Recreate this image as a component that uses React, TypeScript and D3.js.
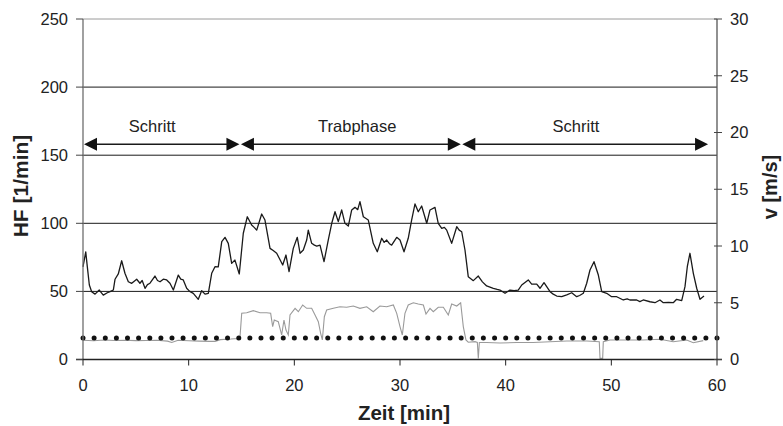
import React from "react";
import * as d3 from "d3";

const W = 783;
const H = 426;

const hfTicks = [0, 50, 100, 150, 200, 250];
const vTicks = [0, 5, 10, 15, 20, 25, 30];
const timeTicks = [0, 10, 20, 30, 40, 50, 60];

// Heart rate [1/min] over time [min]
const hfTime = [0.0, 0.26, 0.41, 0.6, 0.82, 1.14, 1.54, 1.92, 2.3, 2.56, 2.87, 3.03, 3.34, 3.66, 3.97, 4.29, 4.61, 4.85, 5.08, 5.39, 5.6, 5.87, 6.1, 6.34, 6.81, 7.05, 7.29, 7.6, 7.92, 8.23, 8.55, 9.02, 9.25, 9.49, 9.81, 10.1, 10.44, 10.91, 11.23, 11.55, 11.86, 12.18, 12.49, 12.8, 13.13, 13.44, 13.75, 14.07, 14.38, 14.79, 15.17, 15.55, 15.96, 16.2, 16.44, 16.91, 17.22, 17.7, 18.0, 18.33, 18.6, 18.9, 19.21, 19.5, 19.9, 20.28, 20.54, 20.85, 21.17, 21.32, 21.64, 21.9, 22.12, 22.43, 22.81, 23.21, 23.54, 23.85, 24.16, 24.48, 24.79, 25.11, 25.43, 25.74, 26.0, 26.21, 26.53, 27.0, 27.47, 27.85, 28.27, 28.5, 28.74, 29.0, 29.21, 29.69, 30.0, 30.38, 30.78, 31.1, 31.42, 31.73, 32.05, 32.53, 32.84, 33.31, 33.62, 33.95, 34.2, 34.42, 34.89, 35.37, 35.6, 35.84, 36.15, 36.46, 36.94, 37.41, 37.8, 38.2, 38.83, 39.2, 39.46, 39.94, 40.41, 40.8, 41.19, 41.52, 42.14, 42.46, 42.94, 43.25, 43.63, 44.2, 44.5, 44.83, 45.3, 45.78, 46.25, 46.72, 47.0, 47.35, 47.67, 47.98, 48.36, 48.77, 49.09, 49.56, 50.03, 50.51, 51.13, 51.5, 51.76, 52.4, 52.7, 53.02, 53.66, 54.13, 54.6, 54.92, 55.4, 55.86, 56.18, 56.66, 56.97, 57.19, 57.44, 57.76, 58.08, 58.39, 58.77];
const hfValue = [68, 79, 68, 54.7, 49.8, 48, 51, 47.3, 49, 49.8, 51, 58.9, 62.8, 72.5, 63.3, 57.1, 55.9, 57.5, 58.9, 56, 58, 52.3, 55, 56, 61.3, 58, 57.1, 59, 58.4, 56, 51, 62, 59, 58.4, 52.3, 50, 48.6, 44.2, 50.5, 48, 48.6, 63.3, 68.1, 68, 86.5, 89.7, 85.3, 70.6, 73, 62.8, 92.7, 104.8, 98.7, 97, 95, 106.8, 102.4, 81.6, 80, 78, 74, 69.4, 76.7, 64.5, 81.6, 89.7, 78, 80.4, 87.7, 95, 85.3, 84, 83.3, 84, 71.8, 87.7, 100, 108.5, 101.2, 109.8, 100, 98, 109.8, 111.7, 110, 115.9, 104.8, 102.4, 85.3, 79.1, 89, 86, 87.7, 85, 84, 89.7, 87.7, 79.1, 89, 102.4, 114.2, 108.5, 112.7, 100, 109.8, 111.7, 100, 96.3, 97, 95, 85.3, 97.5, 95, 93.8, 80.4, 60.8, 57.9, 61.3, 57, 54, 52.3, 51.5, 51, 48.6, 51, 50.5, 51, 54.7, 58.4, 55.4, 55.4, 52.3, 56.4, 49.8, 48, 46.6, 46.1, 47.4, 49, 46.1, 47, 48.6, 56, 65.7, 71.8, 62, 49.8, 48.6, 46.1, 46.1, 43.7, 44.5, 43.7, 43.7, 42.5, 43.7, 42.4, 41.7, 43.7, 41.7, 42, 41.7, 44.2, 43.2, 53.5, 68.1, 78, 63.3, 52.3, 44.2, 46.6];

// Speed [m/s] over time [min]
const vTime = [0, 1, 2, 3, 4, 5, 6, 7, 8, 8.4, 9, 10, 11, 12, 12.5, 13, 14, 14.7, 14.86, 15.02, 15.49, 16.12, 16.75, 17.38, 17.76, 17.95, 18.1, 18.48, 18.8, 19.02, 19.21, 19.43, 19.59, 20.07, 20.38, 20.79, 21.17, 21.64, 21.96, 22.27, 22.49, 22.65, 22.84, 23.06, 23.69, 24.32, 24.95, 25.58, 26.21, 26.85, 27.47, 28.1, 28.74, 29.37, 29.69, 30.0, 30.22, 30.47, 30.78, 31.26, 31.73, 32.21, 32.46, 32.84, 33.15, 33.62, 34.1, 34.57, 34.89, 35.37, 35.74, 35.99, 36.24, 36.46, 37.1, 37.32, 37.41, 37.51, 38.2, 39.46, 41.04, 42.6, 44.2, 45.78, 47.04, 47.67, 48.86, 48.93, 49.18, 49.24, 49.87, 51.45, 53.02, 54.6, 55.86, 57.13, 57.76, 58.7];
const vValue = [1.7, 1.65, 1.72, 1.68, 1.7, 1.66, 1.68, 1.7, 1.62, 1.5, 1.7, 1.65, 1.62, 1.6, 1.6, 1.75, 1.8, 1.85, 2.0, 4.07, 4.12, 4.3, 4.12, 4.12, 4.07, 2.9, 3.48, 3.33, 2.16, 3.48, 2.6, 2.16, 3.92, 4.51, 4.21, 4.8, 4.51, 4.51, 3.92, 3.33, 2.31, 1.72, 3.77, 4.36, 4.51, 4.65, 4.6, 4.71, 4.51, 4.65, 4.21, 4.71, 4.65, 4.8, 4.07, 2.9, 2.16, 4.07, 4.8, 5.0, 4.89, 4.8, 4.0, 4.51, 4.21, 4.6, 4.6, 3.92, 4.89, 4.71, 5.0, 2.9, 1.72, 1.52, 1.57, 1.5, 0.1, 1.5, 1.5, 1.45, 1.5, 1.5, 1.57, 1.63, 1.63, 1.63, 1.57, 0.1, 0.1, 1.57, 1.72, 1.72, 1.72, 1.78, 1.57, 1.72, 1.48, 1.66];

// Dotted reference series [m/s]
const dotTime = [0, 1.05, 2.11, 3.16, 4.21, 5.26, 6.32, 7.37, 8.42, 9.47, 10.53, 11.58, 12.63, 13.68, 14.74, 15.79, 16.84, 17.89, 18.95, 20.0, 21.05, 22.11, 23.16, 24.21, 25.26, 26.32, 27.37, 28.42, 29.47, 30.53, 31.58, 32.63, 33.68, 34.74, 35.79, 36.84, 37.89, 38.95, 40.0, 41.05, 42.11, 43.16, 44.21, 45.26, 46.32, 47.37, 48.42, 49.47, 50.53, 51.58, 52.63, 53.68, 54.74, 55.79, 56.84, 57.89, 58.95, 60.0];
const dotValue = 1.9;

// Phase annotations
const phaseNames = ["Schritt", "Trabphase", "Schritt"];
const phaseStart = [0, 14.85, 35.8];
const phaseEnd = [14.85, 35.8, 59.2];
const phaseLabelX = [6.55, 25.95, 46.65];

const hfGrid = [50, 100, 150, 200];

export default function App() {
  const left = 83;
  const right = 717;
  const top = 19;
  const bottom = 359.5;

  const x = d3.scaleLinear().domain([0, 60]).range([left, right]);
  const yL = d3.scaleLinear().domain([0, 250]).range([bottom, top]);
  const yR = d3.scaleLinear().domain([0, 30]).range([bottom, top]);

  const hfLine = d3
    .line<number>()
    .x((_, i) => x(hfTime[i]))
    .y((d) => yL(d))(hfValue) as string;

  const vLine = d3
    .line<number>()
    .x((_, i) => x(vTime[i]))
    .y((d) => yR(d))(vValue) as string;

  const font = "Arial, 'Liberation Sans', Helvetica, sans-serif";
  const arrowY = 144.3;
  const headL = 13;
  const headH = 6.5;

  return (
    <svg
      width={W}
      height={H}
      style={{ position: "absolute", left: 0, top: 0, background: "#fff" }}
      fontFamily={font}
    >
      <line x1={left} x2={right} y1={yL(250)} y2={yL(250)} stroke="#9a9a9a" strokeWidth={1} />
      {hfGrid.map((g) => (
        <line key={g} x1={left} x2={right} y1={yL(g)} y2={yL(g)} stroke="#1a1a1a" strokeWidth={1} />
      ))}

      <path d={vLine} fill="none" stroke="#9a9a9a" strokeWidth={1.1} />

      {dotTime.map((t, i) => (
        <circle key={i} cx={x(t)} cy={yR(dotValue)} r={2.5} fill="#111" />
      ))}

      <path d={hfLine} fill="none" stroke="#1a1a1a" strokeWidth={1.3} strokeLinejoin="round" />

      <line x1={left} x2={left} y1={top} y2={bottom} stroke="#6e6e6e" strokeWidth={1.3} />
      <line x1={right} x2={right} y1={top} y2={bottom} stroke="#555" strokeWidth={1.3} />
      <line x1={left - 7} x2={right + 5} y1={bottom} y2={bottom} stroke="#222" strokeWidth={1.3} />

      {hfTicks.map((t) => (
        <g key={t}>
          <line x1={left - 7} x2={left} y1={yL(t)} y2={yL(t)} stroke="#444" strokeWidth={1} />
          <text x={68} y={yL(t)} dy="0.36em" textAnchor="end" fontSize={16.5} fill="#222">
            {t}
          </text>
        </g>
      ))}

      {vTicks.map((t) => (
        <g key={t}>
          <line x1={right - 3} x2={right + 5} y1={yR(t)} y2={yR(t)} stroke="#444" strokeWidth={1} />
          <text x={730} y={yR(t)} dy="0.36em" textAnchor="start" fontSize={16.5} fill="#222">
            {t}
          </text>
        </g>
      ))}

      {timeTicks.map((t) => (
        <g key={t}>
          <line x1={x(t)} x2={x(t)} y1={bottom} y2={bottom + 6} stroke="#222" strokeWidth={1} />
          <text x={x(t)} y={391} textAnchor="middle" fontSize={16.5} fill="#222">
            {t}
          </text>
        </g>
      ))}

      {phaseNames.map((name, i) => {
        const x0 = x(phaseStart[i]) + 1;
        const x1 = x(phaseEnd[i]) - 0.5;
        return (
          <g key={i}>
            <line x1={x0 + headL - 1} x2={x1 - headL + 1} y1={arrowY} y2={arrowY} stroke="#1a1a1a" strokeWidth={1.5} />
            <path
              d={`M${x0},${arrowY} L${x0 + headL},${arrowY - headH} L${x0 + headL},${arrowY + headH} Z`}
              fill="#111"
            />
            <path
              d={`M${x1},${arrowY} L${x1 - headL},${arrowY - headH} L${x1 - headL},${arrowY + headH} Z`}
              fill="#111"
            />
            <text x={x(phaseLabelX[i])} y={132} textAnchor="middle" fontSize={16.5} fill="#222">
              {name}
            </text>
          </g>
        );
      })}

      <text x={404} y={420} textAnchor="middle" fontSize={20.5} fontWeight="bold" fill="#222">
        Zeit [min]
      </text>
      <text
        transform={`translate(27.5,186) rotate(-90)`}
        textAnchor="middle"
        fontSize={21}
        fontWeight="bold"
        fill="#222"
      >
        HF [1/min]
      </text>
      <text
        transform={`translate(777,187) rotate(-90)`}
        textAnchor="middle"
        fontSize={20}
        fontWeight="bold"
        fill="#222"
      >
        v [m/s]
      </text>
    </svg>
  );
}
